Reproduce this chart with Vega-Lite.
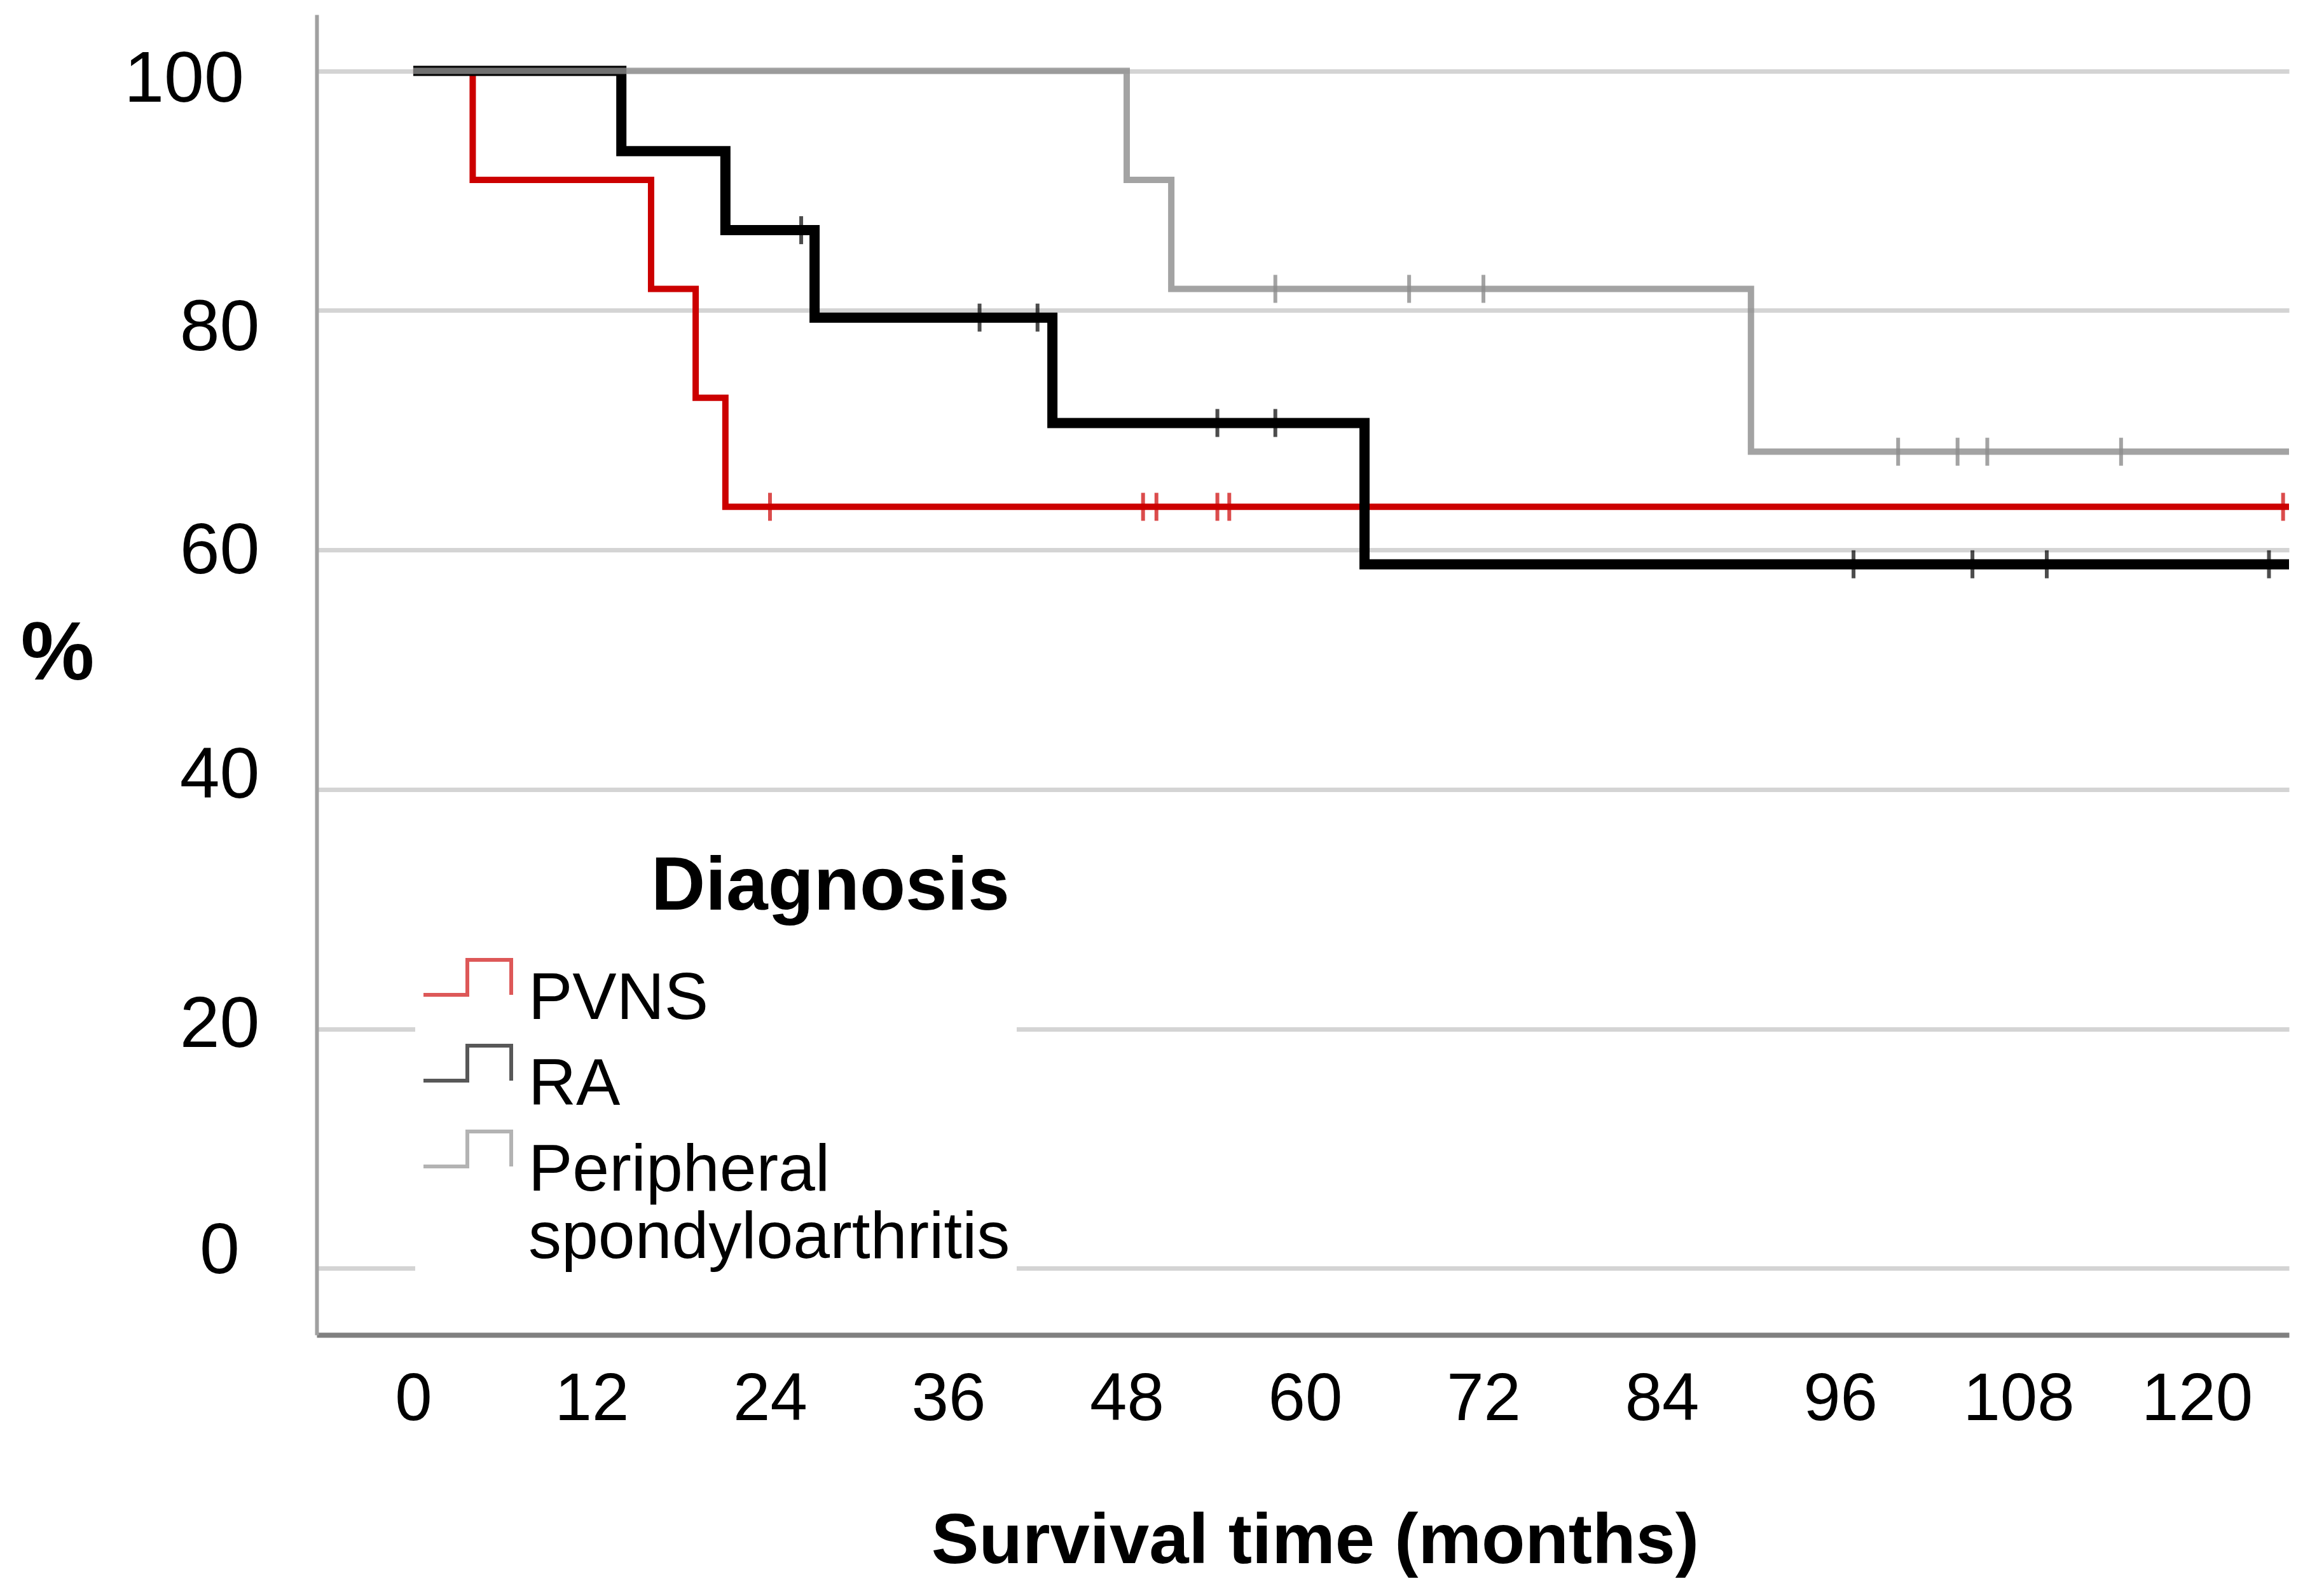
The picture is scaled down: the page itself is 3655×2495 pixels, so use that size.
{
  "$schema": "https://vega.github.io/schema/vega-lite/v6.json",
  "width": 3102,
  "height": 2077,
  "autosize": {"type": "none"},
  "padding": {"left": 498, "top": 23, "right": 55, "bottom": 395},
  "background": "white",
  "config": {"font": "Liberation Sans", "view": {"stroke": null}},
  "datasets": {
    "curves": [
      {"group": "PVNS", "t": 0, "s": 100},
      {"group": "PVNS", "t": 4, "s": 90.9},
      {"group": "PVNS", "t": 16, "s": 81.8},
      {"group": "PVNS", "t": 19, "s": 72.7},
      {"group": "PVNS", "t": 21, "s": 63.6},
      {"group": "PVNS", "t": 126.2, "s": 63.6},
      {"group": "RA", "t": 0, "s": 100},
      {"group": "RA", "t": 14, "s": 93.3},
      {"group": "RA", "t": 21, "s": 86.7},
      {"group": "RA", "t": 27, "s": 79.4},
      {"group": "RA", "t": 43, "s": 70.6},
      {"group": "RA", "t": 64, "s": 58.8},
      {"group": "RA", "t": 126.2, "s": 58.8},
      {"group": "Peripheral spondyloarthritis", "t": 0, "s": 100},
      {"group": "Peripheral spondyloarthritis", "t": 48, "s": 90.9},
      {"group": "Peripheral spondyloarthritis", "t": 51, "s": 81.8},
      {"group": "Peripheral spondyloarthritis", "t": 90, "s": 68.2},
      {"group": "Peripheral spondyloarthritis", "t": 126.2, "s": 68.2}
    ],
    "censors": [
      {"group": "PVNS", "t": 24, "s": 63.6},
      {"group": "PVNS", "t": 49.1, "s": 63.6},
      {"group": "PVNS", "t": 50, "s": 63.6},
      {"group": "PVNS", "t": 54.1, "s": 63.6},
      {"group": "PVNS", "t": 54.9, "s": 63.6},
      {"group": "PVNS", "t": 125.8, "s": 63.6},
      {"group": "RA", "t": 26.1, "s": 86.7},
      {"group": "RA", "t": 38.1, "s": 79.4},
      {"group": "RA", "t": 42, "s": 79.4},
      {"group": "RA", "t": 54.1, "s": 70.6},
      {"group": "RA", "t": 58, "s": 70.6},
      {"group": "RA", "t": 96.9, "s": 58.8},
      {"group": "RA", "t": 104.9, "s": 58.8},
      {"group": "RA", "t": 109.9, "s": 58.8},
      {"group": "RA", "t": 124.85, "s": 58.8},
      {"group": "Peripheral spondyloarthritis", "t": 58, "s": 81.8},
      {"group": "Peripheral spondyloarthritis", "t": 67, "s": 81.8},
      {"group": "Peripheral spondyloarthritis", "t": 72, "s": 81.8},
      {"group": "Peripheral spondyloarthritis", "t": 99.9, "s": 68.2},
      {"group": "Peripheral spondyloarthritis", "t": 103.9, "s": 68.2},
      {"group": "Peripheral spondyloarthritis", "t": 105.9, "s": 68.2},
      {"group": "Peripheral spondyloarthritis", "t": 114.9, "s": 68.2}
    ]
  },
  "encoding": {
    "x": {
      "field": "t", "type": "quantitative",
      "scale": {"domain": [-6.5, 126.2], "nice": false, "zero": false},
      "axis": {
        "values": [0, 12, 24, 36, 48, 60, 72, 84, 96, 108, 120],
        "title": "Survival time (months)",
        "grid": false, "ticks": false,
        "domainColor": "#808080", "domainWidth": 8,
        "labelFont": "Liberation Sans", "labelFontSize": 105, "labelColor": "#000000",
        "labelPadding": 50, "labelFlush": false, "labelOverlap": false, "labelLimit": 1000,
        "titleFont": "Liberation Sans", "titleFontSize": 112, "titleFontWeight": "bold", "titleColor": "#000000",
        "titleBaseline": "alphabetic", "titleY": 358, "titleX": 1570, "titleAlign": "center", "titleLimit": 3000
      }
    },
    "y": {
      "field": "s", "type": "quantitative",
      "scale": {"domain": [-5.55, 104.7], "nice": false, "zero": false},
      "axis": {
        "values": [0, 20, 40, 60, 80, 100],
        "title": "%",
        "grid": true, "gridColor": "#d4d4d4", "gridWidth": 7,
        "ticks": false,
        "domainColor": "#a0a0a0", "domainWidth": 6,
        "labelFont": "Liberation Sans", "labelFontSize": 113, "labelColor": "#000000",
        "labelAlign": "center", "labelBaseline": "middle",
        "labelPadding": {"condition": {"test": "datum.value == 100", "value": 209}, "value": 153},
        "labelOffset": {"condition": [
          {"test": "datum.value == 100", "value": 14},
          {"test": "datum.value == 80", "value": 28},
          {"test": "datum.value == 60", "value": 2},
          {"test": "datum.value == 40", "value": -21},
          {"test": "datum.value == 20", "value": -6},
          {"test": "datum.value == 0", "value": -27}
        ], "value": 0},
        "labelFlush": false, "labelOverlap": false, "labelLimit": 1000,
        "titleFont": "Liberation Sans", "titleFontSize": 130, "titleFontWeight": "bold", "titleColor": "#000000",
        "titleAngle": 0, "titleAlign": "center", "titleBaseline": "alphabetic",
        "titleX": -408, "titleY": 1045
      }
    }
  },
  "layer": [
    {
      "data": {"name": "curves"},
      "transform": [{"filter": "datum.group == 'PVNS'"}],
      "mark": {"type": "line", "interpolate": "step-after", "strokeWidth": 10},
      "encoding": {
        "color": {
          "field": "group", "type": "nominal",
          "scale": {"domain": ["PVNS", "RA", "Peripheral spondyloarthritis"], "range": ["#cc0000", "#000000", "#8c8c8c"]},
          "legend": {
            "orient": "none", "legendX": 155, "legendY": 1305,
            "title": "Diagnosis", "titleFont": "Liberation Sans", "titleFontSize": 118, "titleFontWeight": "bold",
            "titleColor": "#000000", "titleAnchor": "end", "titlePadding": 44, "titleLimit": 3000,
            "labelFont": "Liberation Sans", "labelFontSize": 104, "labelColor": "#000000", "labelLimit": 3000,
            "labelOffset": 24,
            "labelExpr": "datum.label == 'Peripheral spondyloarthritis' ? ['Peripheral', 'spondyloarthritis'] : datum.label",
            "symbolType": "M-1,-0.1L0,-0.1L0,-0.9L1,-0.9L1,-0.1L1,-0.9L0,-0.9L0,-0.1Z",
            "symbolSize": 19044, "symbolStrokeWidth": 6, "symbolFillColor": "transparent", "symbolOpacity": 0.65,
            "rowPadding": 8, "padding": 10, "fillColor": "white", "strokeColor": null
          }
        }
      }
    },
    {
      "data": {"name": "curves"},
      "transform": [{"filter": "datum.group == 'RA'"}],
      "mark": {"type": "line", "interpolate": "step-after", "strokeWidth": 16},
      "encoding": {
        "color": {"field": "group", "type": "nominal", "legend": null}
      }
    },
    {
      "data": {"name": "censors"},
      "transform": [{"filter": "datum.group != 'Peripheral spondyloarthritis'"}],
      "mark": {"type": "tick", "orient": "vertical", "size": 44, "thickness": 6},
      "encoding": {
        "color": {"field": "group", "type": "nominal", "legend": null}
      }
    },
    {
      "data": {"name": "curves"},
      "transform": [{"filter": "datum.group == 'Peripheral spondyloarthritis'"}],
      "mark": {"type": "line", "interpolate": "step-after", "opacity": 0.8, "strokeWidth": 10},
      "encoding": {
        "color": {"field": "group", "type": "nominal", "legend": null}
      }
    },
    {
      "data": {"name": "censors"},
      "transform": [{"filter": "datum.group == 'Peripheral spondyloarthritis'"}],
      "mark": {"type": "tick", "orient": "vertical", "size": 44, "thickness": 6, "opacity": 0.8},
      "encoding": {
        "color": {"field": "group", "type": "nominal", "legend": null}
      }
    }
  ]
}
